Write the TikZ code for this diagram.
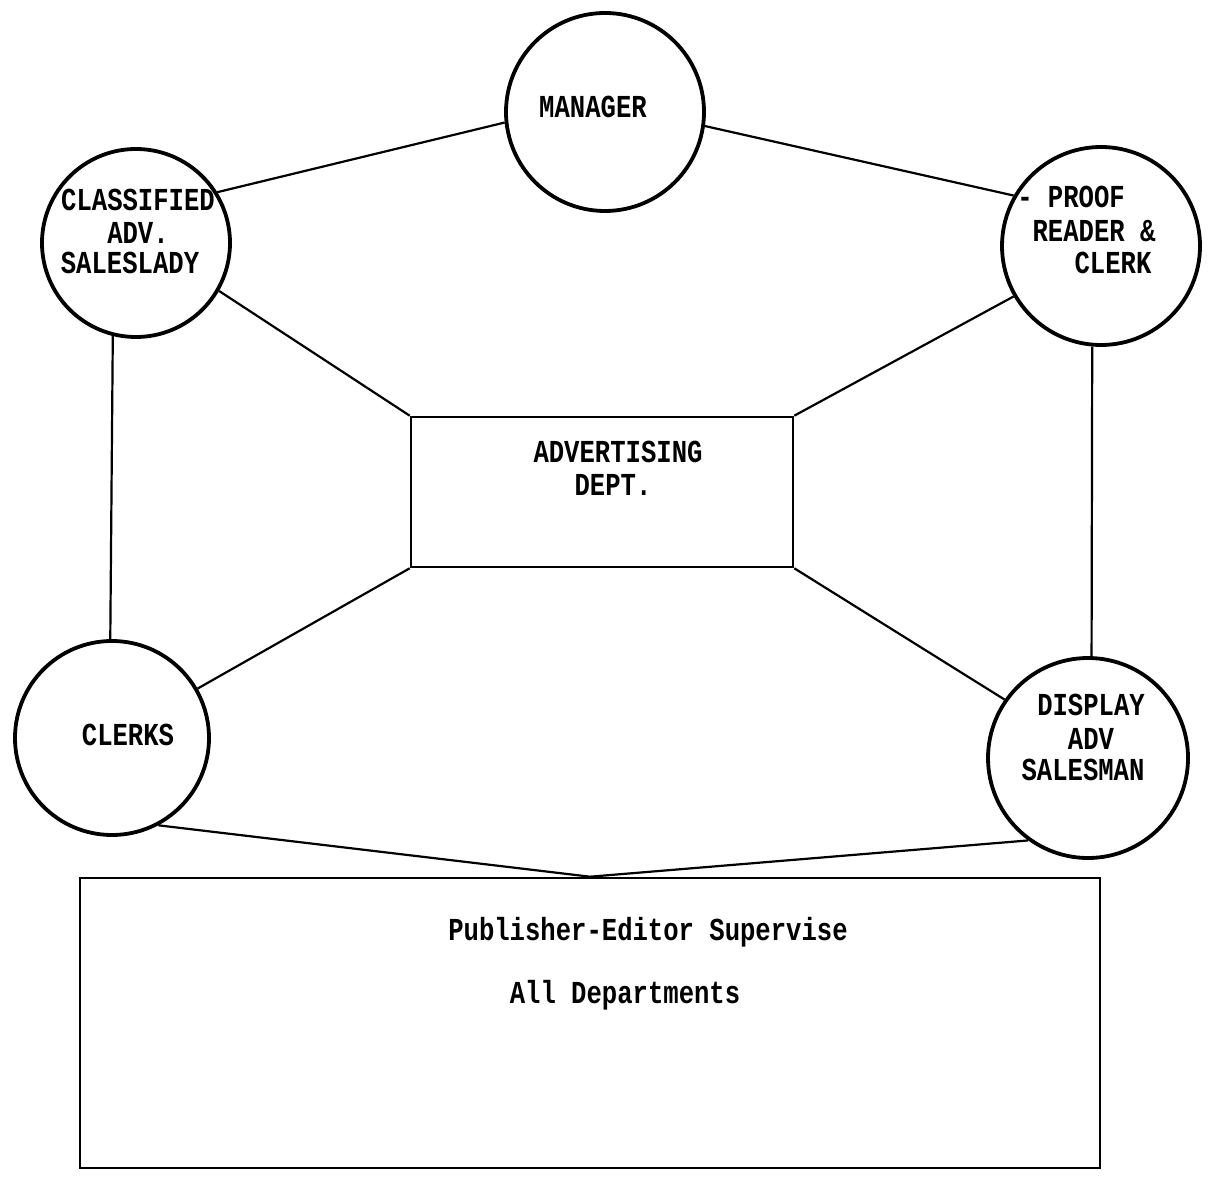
\documentclass[tikz,border=0pt]{standalone}
\usepackage{fontspec}
\newfontfamily\typewr[FakeStretch=0.8]{Liberation Mono}
\begin{document}
\begin{tikzpicture}[x=0.5pt,y=-0.5pt,
  circ/.style={draw,circle,line width=1.9pt,minimum size=#1,inner sep=0pt},
  boxnode/.style={draw,rectangle,line width=1.3pt,inner sep=0pt},
  lbl/.style={font=\typewr\bfseries\fontsize{16pt}{16pt}\selectfont,inner sep=0pt,align=center},
  conn/.style={line width=1.1pt}]
\useasboundingbox (0,0) rectangle (1208,1186);

% circles
\node[circ=99pt] (M)  at (605,112) {};
\node[circ=94pt] (CL) at (136,243) {};
\node[circ=99pt] (PR) at (1101,246) {};
\node[circ=97pt] (CK) at (112,738) {};
\node[circ=100pt] (DS) at (1088,758) {};

% boxes
\node[boxnode,minimum width=191pt,minimum height=75pt] (ADV) at (602,492) {};
\node[boxnode,minimum width=510pt,minimum height=145pt] (PUB) at (590,1023) {};

% labels
\node[lbl] (tM) at (593,107) {MANAGER};
\node[lbl] (tCL1) at (138,200) {CLASSIFIED};
\node[lbl] (tCL2) at (138,233) {ADV.};
\node[lbl] (tCL3) at (130,263) {SALESLADY};
\node[lbl] (tPR1) at (1071,197) {- PROOF};
\node[lbl] (tPR2) at (1094,231) {READER \&};
\node[lbl] (tPR3) at (1113,263) {CLERK};
\node[lbl] (tCK) at (128,735) {CLERKS};
\node[lbl] (tDS1) at (1091,705) {DISPLAY};
\node[lbl] (tDS2) at (1091,739) {ADV};
\node[lbl] (tDS3) at (1083,770) {SALESMAN};
\node[lbl] (tADV1) at (618,452) {ADVERTISING};
\node[lbl] (tADV2) at (613,485) {DEPT.};
\node[lbl] (tPUB1) at (648,932) {Publisher-Editor Supervise};
\node[lbl] (tPUB2) at (625,995) {All Departments};

% connectors
\draw[conn] (CL.32) -- (M.186);
\draw[conn] (M.-8) -- (PR.150);
\draw[conn] (CL.-30) -- (ADV.north west);
\draw[conn] (PR.210) -- (ADV.north east);
\draw[conn] (ADV.south west) -- (CK.30);
\draw[conn] (ADV.south east) -- (DS.145);
\draw[conn] (CL.-104) -- (CK.91);
\draw[conn] (PR.-95) -- (DS.88);
\draw[conn] (CK.-62) -- (PUB.north);
\draw[conn] (DS.-126) -- (PUB.north);
\end{tikzpicture}
\end{document}
